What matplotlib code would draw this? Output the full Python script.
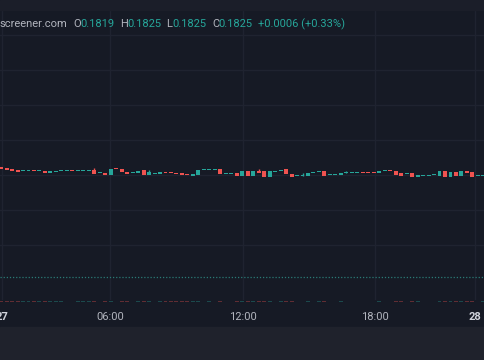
import numpy as np
import matplotlib.pyplot as plt
from matplotlib.patches import Rectangle

# 15 min candles
opens = [0.18248, 0.18245, 0.18242, 0.18240, 0.18236, 0.18237, 0.18240, 0.18237, 0.18238, 0.18232,
         0.18235, 0.18236, 0.18238, 0.18239, 0.18237, 0.18237, 0.18237, 0.18240, 0.18230, 0.18232,
         0.18224, 0.18243, 0.18244, 0.18235, 0.18230, 0.18230, 0.18239, 0.18226, 0.18229, 0.18229,
         0.18234, 0.18234, 0.18232, 0.18231, 0.18229, 0.18223, 0.18226, 0.18240, 0.18240, 0.18240,
         0.18242, 0.18229, 0.18229, 0.18231, 0.18222, 0.18237,
         0.18222, 0.18236, 0.18236, 0.18220, 0.18233, 0.18236, 0.18242, 0.18228, 0.18222, 0.18222,
         0.18223, 0.18231, 0.18233, 0.18236, 0.18225, 0.18224, 0.18226, 0.18231, 0.18231, 0.18231,
         0.18232, 0.18231, 0.18231, 0.18230, 0.18237, 0.18238, 0.18238, 0.18232, 0.18229, 0.18232,
         0.18218, 0.18222, 0.18222, 0.18224, 0.18222, 0.18236, 0.18220, 0.18234, 0.18222, 0.18238,
         0.18234, 0.18221, 0.18221]
closes = [0.18242, 0.18240, 0.18238, 0.18235, 0.18240, 0.18240, 0.18236, 0.18238, 0.18232, 0.18237,
          0.18238, 0.18240, 0.18239, 0.18238, 0.18240, 0.18240, 0.18240, 0.18228, 0.18231, 0.18224,
          0.18243, 0.18242, 0.18234, 0.18228, 0.18231, 0.18238, 0.18226, 0.18233, 0.18230, 0.18234,
          0.18230, 0.18230, 0.18228, 0.18226, 0.18224, 0.18229, 0.18241, 0.18241, 0.18243, 0.18241,
          0.18228, 0.18230, 0.18230, 0.18223, 0.18237, 0.18222,
          0.18238, 0.18230, 0.18218, 0.18236, 0.18234, 0.18240, 0.18228, 0.18220, 0.18223, 0.18223,
          0.18232, 0.18232, 0.18236, 0.18222, 0.18226, 0.18225, 0.18230, 0.18232, 0.18232, 0.18232,
          0.18231, 0.18230, 0.18230, 0.18238, 0.18238, 0.18237, 0.18225, 0.18222, 0.18230, 0.18218,
          0.18224, 0.18223, 0.18223, 0.18225, 0.18236, 0.18220, 0.18234, 0.18222, 0.18237, 0.18232,
          0.18220, 0.18222, 0.18224]
# only the candles that show a visible wick
wick_highs = {17: 0.18245, 27: 0.18240, 47: 0.18242, 55: 0.18230, 63: 0.18238}
volumes = [1.5, 1, 1, 1.5, 1, 1, 1.5, 1, 2, 1, 1, 1, 0.5, 0.5, 1, 1, 1, 2, 0.5, 1.5,
           2, 0.5, 1.5, 1.5, 0.5, 1, 2, 1.5, 0.5, 1, 1, 1, 1, 1.5, 1.5, 1, 2, 0.5, 1, 0.5,
           2, 0.5, 0.5, 1.5, 2, 2, 2, 1, 2, 2, 0.5, 1, 2, 1.5, 0.5, 0.5, 1, 0.5, 1, 2,
           0.5, 0.5, 1, 0.5, 0.5, 0.5, 0.5, 0.5, 0.5, 1, 0.5, 0.5, 2, 1.5, 0.5, 2, 1, 0.5,
           0.5, 0.5, 2, 2, 2, 1.5, 2, 1, 2, 0.5, 1]
tick_pos = [0.2, 19.9, 44.2, 68.2, 86.4]
tick_labels = ['27', '06:00', '12:00', '18:00', '28']
grid_prices = [0.18645, 0.18540, 0.18435, 0.18330, 0.18225, 0.18120, 0.18015]
price_line = 0.17920

UP, DOWN = '#26a69a', '#ef5350'
BG = '#161a25'
GRID = '#1f2330'

W, H = 485, 360
fig = plt.figure(figsize=(W / 100, H / 100), dpi=100, facecolor=BG)

def fx(px):
    return px / W

def fy(py):
    return 1 - py / H

# top strip and bottom panel
fig.patches.append(Rectangle((0, fy(10)), 1, 10 / H, transform=fig.transFigure,
                             color='#1b1e29', zorder=0))
fig.patches.append(Rectangle((0, 0), 1, 33 / H, transform=fig.transFigure,
                             color='#1f222c', zorder=0))

ax = fig.add_axes([0, fy(300), 1, 290 / H])
ax.set_facecolor(BG)
for s in ax.spines.values():
    s.set_visible(False)
ax.spines['top'].set_visible(True)
ax.spines['top'].set_color('#262a35')

n = len(opens)
x = np.arange(n)
o = np.array(opens)
c = np.array(closes)
lo = np.minimum(o, c)
hi = np.maximum(o, c)
cols = [UP if cc >= oo else DOWN for oo, cc in zip(o, c)]
minh = 0.00003
ax.bar(x, np.maximum(hi - lo, minh), bottom=lo, width=0.72, color=cols, zorder=3, linewidth=0)
for i, h in wick_highs.items():
    ax.vlines(i, hi[i], h, color=cols[i], linewidth=1, zorder=3)

ax.axhline(price_line, color='#2a7a76', linestyle=(0, (1, 1.5)), linewidth=0.9, zorder=2)

ax.set_xlim(-0.2, 88.3)
ax.set_ylim(0.17850, 0.18720)
ax.set_yticks(grid_prices)
ax.set_xticks(tick_pos)
ax.set_xticklabels(tick_labels)
ax.grid(True, color=GRID, linewidth=1, zorder=0)
ax.tick_params(length=0, labelleft=False, labelsize=8, colors='#b2b5be', pad=9)
for lab in ax.get_xticklabels():
    lab.set_family('Roboto')
    if lab.get_text() in ('27', '28'):
        lab.set_fontweight('bold')
        lab.set_color('#d1d4dc')

# volume strip at the very bottom of the price pane
vax = fig.add_axes([0, fy(302), 1, 12 / H])
vax.patch.set_visible(False)
vax.bar(x, volumes, width=0.72, color=cols, alpha=0.35, linewidth=0)
vax.set_xlim(ax.get_xlim())
vax.set_ylim(0, 16)
vax.axis('off')

# legend line on top
parts = [(-1, 'screener.com', '#b2b5be'), (73, 'O', '#b2b5be'), (80, '0.1819', UP),
         (120, 'H', '#b2b5be'), (127, '0.1825', UP), (166, 'L', '#b2b5be'), (172, '0.1825', UP),
         (212, 'C', '#b2b5be'), (218, '0.1825', UP), (258, '+0.0006 (+0.33%)', UP)]
for px, t, col in parts:
    fig.text(fx(px), fy(24), t, color=col, fontsize=8, family='Roboto', va='center', ha='left')

fig.savefig('out.png', dpi=100, facecolor=BG)
